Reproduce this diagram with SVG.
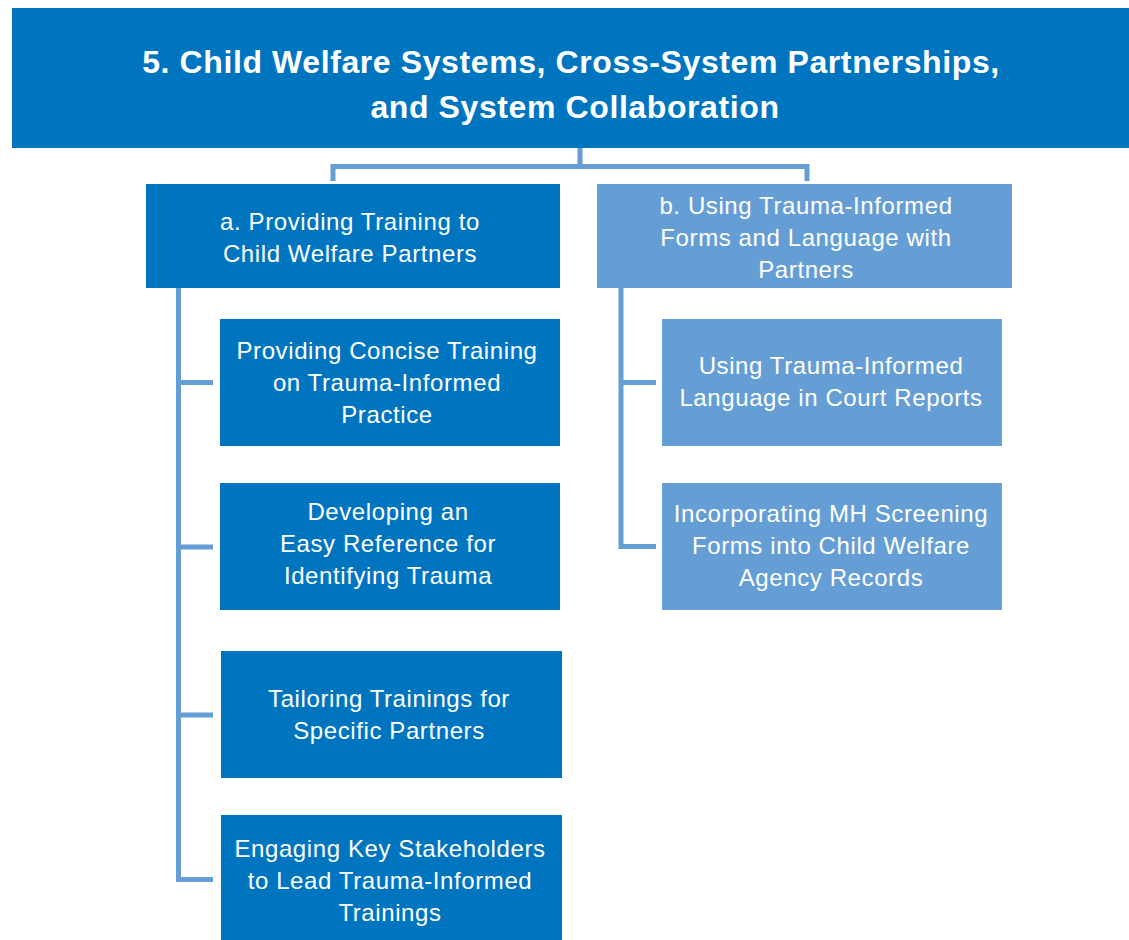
<svg xmlns="http://www.w3.org/2000/svg" width="1129" height="940" viewBox="0 0 1129 940">
<style>
.dark{fill:#0075BF}
.light{fill:#659ED4}
.t{fill:#fff;font-family:"Liberation Sans",Arial,sans-serif;font-size:24px;letter-spacing:0.6px;text-anchor:middle}
.h{fill:#fff;font-family:"Liberation Sans",Arial,sans-serif;font-size:32px;font-weight:bold;letter-spacing:0.6px;text-anchor:middle}
.c{fill:none;stroke:#659ED4;stroke-width:5}
</style>
<rect width="1129" height="940" fill="#fff"/>
<g id="connectors">
<path class="c" d="M580,148 V166.5 M333,181 V166.5 H807 V181"/>
<path class="c" d="M178.5,288 V879.5 H213 M178.5,382.5 H213 M178.5,547 H213 M178.5,715 H213"/>
<path class="c" d="M621,288 V546.5 H656 M621,382.5 H656"/>
</g>
<g id="header">
<rect class="dark" x="12" y="8" width="1117" height="140"/>
<text class="h" x="571" y="73">5. Child Welfare Systems, Cross-System Partnerships,</text>
<text class="h" x="575" y="118">and System Collaboration</text>
</g>
<g id="node-a">
<rect class="dark" x="146" y="184" width="414" height="104"/>
<text class="t" x="350" y="230">a. Providing Training to</text>
<text class="t" x="350" y="262">Child Welfare Partners</text>
</g>
<g id="node-b">
<rect class="light" x="597" y="184" width="415" height="104"/>
<text class="t" x="806" y="214">b. Using Trauma-Informed</text>
<text class="t" x="806" y="246">Forms and Language with</text>
<text class="t" x="806" y="278">Partners</text>
</g>
<g id="node-a1">
<rect class="dark" x="220" y="319" width="340" height="127"/>
<text class="t" x="387" y="359">Providing Concise Training</text>
<text class="t" x="387" y="391">on Trauma-Informed</text>
<text class="t" x="387" y="423">Practice</text>
</g>
<g id="node-a2">
<rect class="dark" x="220" y="483" width="340" height="127"/>
<text class="t" x="388" y="520">Developing an</text>
<text class="t" x="388" y="552">Easy Reference for</text>
<text class="t" x="388" y="584">Identifying Trauma</text>
</g>
<g id="node-a3">
<rect class="dark" x="221" y="651" width="341" height="127"/>
<text class="t" x="389" y="707">Tailoring Trainings for</text>
<text class="t" x="389" y="739">Specific Partners</text>
</g>
<g id="node-a4">
<rect class="dark" x="221" y="815" width="341" height="125"/>
<text class="t" x="390" y="857">Engaging Key Stakeholders</text>
<text class="t" x="390" y="889">to Lead Trauma-Informed</text>
<text class="t" x="390" y="921">Trainings</text>
</g>
<g id="node-b1">
<rect class="light" x="662" y="319" width="340" height="127"/>
<text class="t" x="831" y="374">Using Trauma-Informed</text>
<text class="t" x="831" y="406">Language in Court Reports</text>
</g>
<g id="node-b2">
<rect class="light" x="662" y="483" width="340" height="127"/>
<text class="t" x="831" y="522">Incorporating MH Screening</text>
<text class="t" x="831" y="554">Forms into Child Welfare</text>
<text class="t" x="831" y="586">Agency Records</text>
</g>
</svg>
